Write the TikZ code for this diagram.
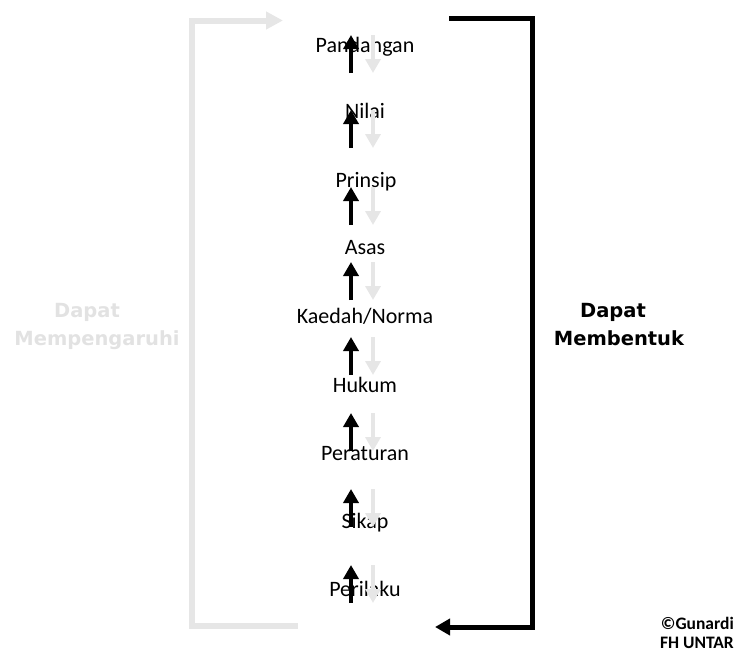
\documentclass[tikz,border=0pt]{standalone}
\usepackage{fontspec}
\setmainfont{Carlito}
\newfontfamily\dvb{DejaVu Sans}[BoldFont={DejaVu Sans Bold}]
\usetikzlibrary{arrows.meta}
\definecolor{lg}{HTML}{E6E6E6}
\definecolor{lgt}{HTML}{E2E2E2}
\begin{document}
\begin{tikzpicture}[x=1pt,y=-1pt,
  item/.style={font=\fontsize{22}{26}\selectfont, inner sep=0pt, anchor=base},
  upar/.style={line width=4.5pt, black, -{Triangle[length=14pt,width=15pt]}},
  downar/.style={line width=4.5pt, lg, -{Triangle[length=14pt,width=15pt]}},
  side/.style={font=\dvb\bfseries\fontsize{19.5}{27.5}\selectfont, align=center, inner sep=0pt, anchor=base},
  credit/.style={font=\bfseries\fontsize{17.5}{19}\selectfont, align=right, inner sep=0pt, anchor=base east}]
\useasboundingbox (0,0) rectangle (736,653);

% items
\node[item] (t1) at (365,52) {Pandangan};
\node[item] (t2) at (365,118) {Nilai};
\node[item] (t3) at (366,187) {Prinsip};
\node[item] (t4) at (365,254) {Asas};
\node[item] (t5) at (365,323) {Kaedah/Norma};
\node[item] (t6) at (365,392) {Hukum};
\node[item] (t7) at (365,460) {Peraturan};
\node[item] (t8) at (365,528) {Sikap};
\node[item] (t9) at (365,596) {Perilaku};

% small arrows
\foreach \i/\top in {1/35,2/110,3/187,4/262,5/337,6/413,7/489,8/565}{
  \coordinate (ub\i) at (351,\top+38);
  \coordinate (ut\i) at (351,\top);
  \coordinate (dt\i) at (373,\top);
  \coordinate (db\i) at (373,\top+38);
  \draw[upar] (ub\i) -- (ut\i);
  \draw[downar] (dt\i) -- (db\i);
}

% gray frame
\coordinate (gs) at (298,625.5);
\coordinate (ge) at (283,20.5);
\draw[lg, line width=6pt, -{Triangle[length=17pt,width=17pt]}] (gs) -- (192,625.5) -- (192,20.5) -- (ge);

% black frame
\coordinate (bs) at (449,18);
\coordinate (be) at (435,627);
\draw[black, line width=5pt, -{Triangle[length=15pt,width=16pt]}] (bs) -- (532,18) -- (532,627) -- (be);

% side labels
\node[side, text=lgt] (dm) at (97,345) {Dapat\hspace*{20pt}\\Mempengaruhi};
\node[side] (db) at (619,345) {Dapat\hspace*{12pt}\\Membentuk};

% credit
\node[credit] (cr) at (734,648) {©Gunardi\\FH UNTAR};
\end{tikzpicture}
\end{document}
